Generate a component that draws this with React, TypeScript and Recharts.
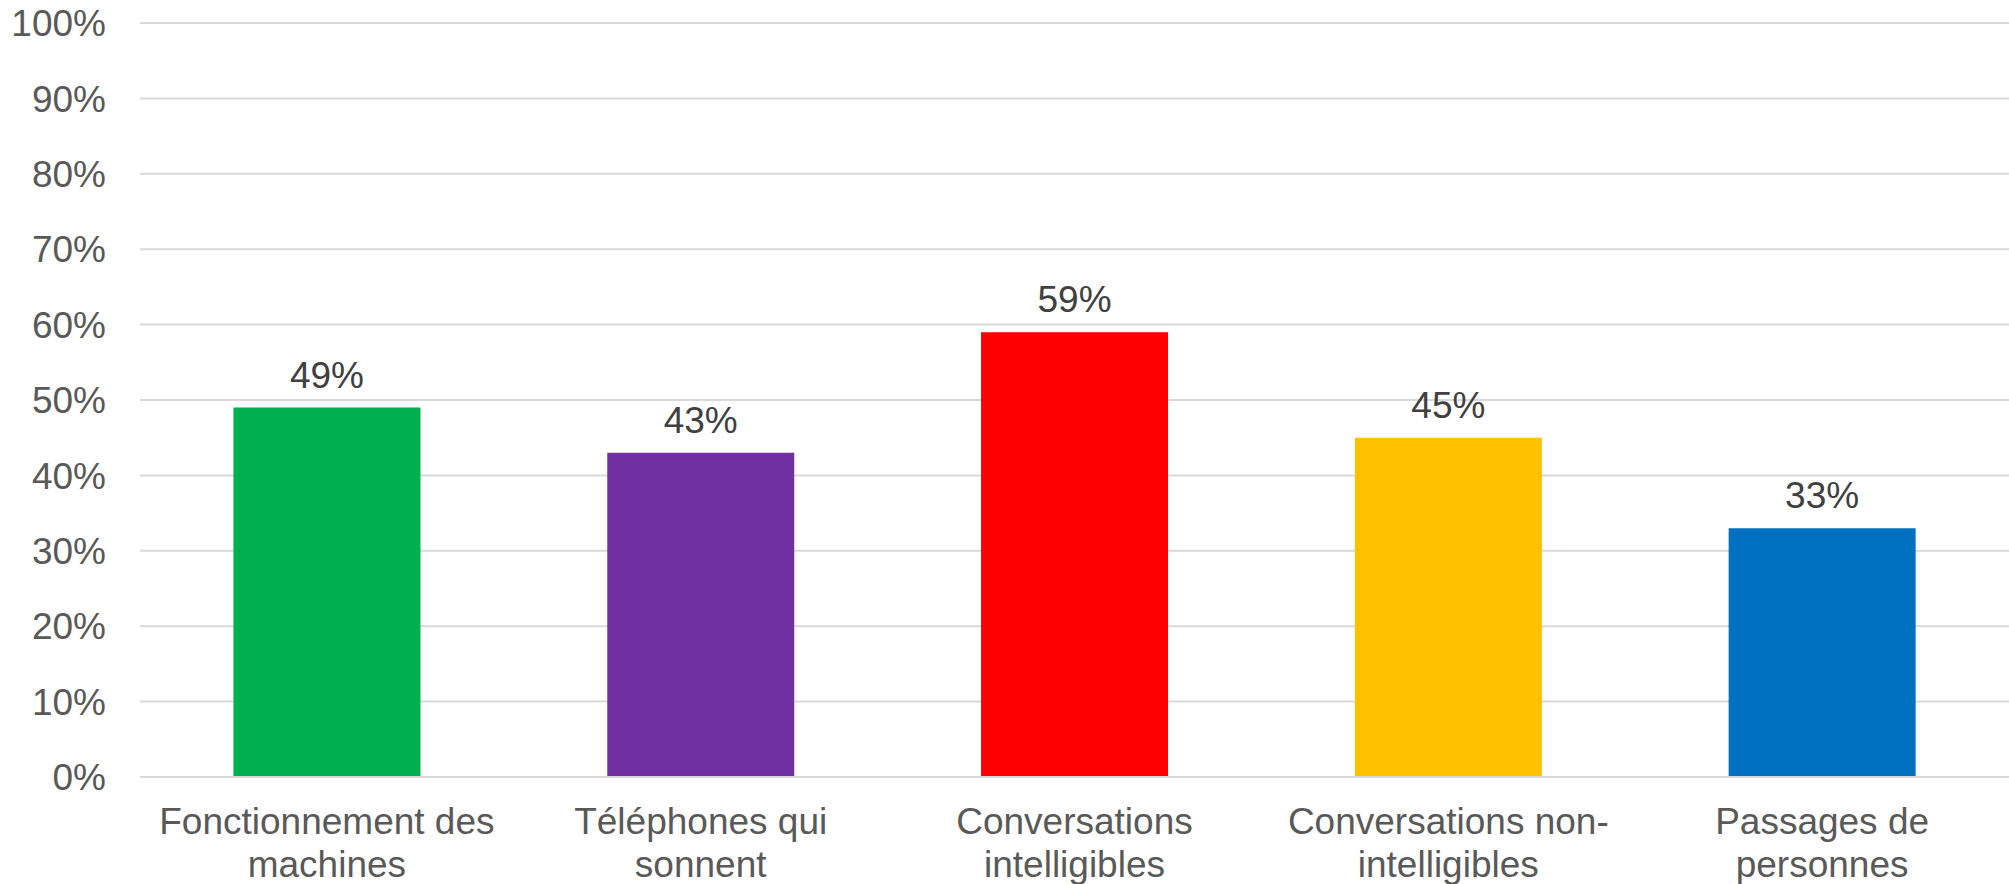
import React from 'react';
import { BarChart, Bar, XAxis, YAxis, CartesianGrid, LabelList, Cell } from 'recharts';

// Categories (line breaks as in the original axis labels)
const categories = [
  'Fonctionnement des\nmachines',
  'Téléphones qui\nsonnent',
  'Conversations\nintelligibles',
  'Conversations non-\nintelligibles',
  'Passages de\npersonnes',
];

// Share of respondents, in percent
const values = [49, 43, 59, 45, 33];

const barColors = ['#00B050', '#7030A0', '#FF0000', '#FFC000', '#0070C0'];

const yTicks = [0, 10, 20, 30, 40, 50, 60, 70, 80, 90, 100];

const data = categories.map((name, i) => ({ name, value: values[i] }));

const FONT = '"Liberation Sans", Arial, sans-serif';

// Two-line category label under each bar
const CategoryTick = (props: any) => {
  const { x, y, payload } = props;
  const lines = String(payload.value).split('\n');
  return (
    <text
      x={x}
      y={y}
      textAnchor="middle"
      fill="#595959"
      fontSize={37}
      fontFamily={FONT}
    >
      {lines.map((line, i) => (
        <tspan key={i} x={x} dy={i === 0 ? 57 : 43}>
          {line}
        </tspan>
      ))}
    </text>
  );
};

const App: React.FC = () => {
  return (
    <div style={{ position: 'absolute', left: 0, top: 0, width: 2009, height: 884, background: '#fff' }}>
      <BarChart
        width={2009}
        height={884}
        data={data}
        margin={{ top: 23, right: 0, left: 0, bottom: 0 }}
        barCategoryGap="25%"
      >
        <CartesianGrid vertical={false} stroke="#D9D9D9" strokeWidth={2} />
        <XAxis
          dataKey="name"
          interval={0}
          height={107}
          tickLine={false}
          tickSize={0}
          tickMargin={0}
          axisLine={{ stroke: '#D9D9D9', strokeWidth: 2 }}
          tick={<CategoryTick />}
        />
        <YAxis
          width={140}
          domain={[0, 100]}
          ticks={yTicks}
          interval={0}
          axisLine={false}
          tickLine={false}
          tickSize={0}
          tickMargin={34}
          tickFormatter={(v) => `${v}%`}
          tick={{ fill: '#595959', fontSize: 37, fontFamily: FONT }}
        />
        <Bar dataKey="value" isAnimationActive={false}>
          {data.map((_, i) => (
            <Cell key={i} fill={barColors[i]} />
          ))}
          <LabelList
            dataKey="value"
            position="top"
            offset={20}
            formatter={(v: any) => `${v}%`}
            fill="#404040"
            fontSize={37}
            fontFamily={FONT}
          />
        </Bar>
      </BarChart>
    </div>
  );
};

export default App;
